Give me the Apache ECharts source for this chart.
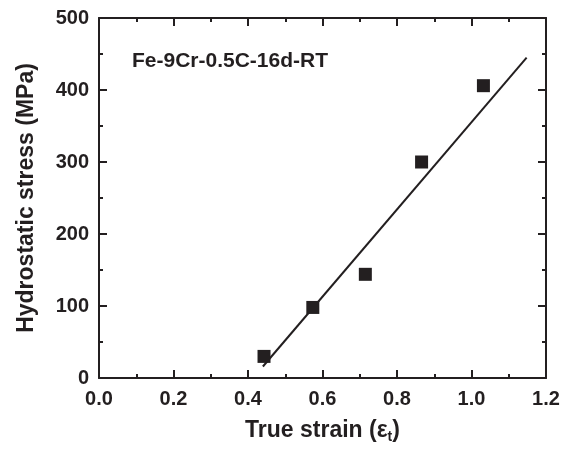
<!DOCTYPE html>
<html>
<head>
<meta charset="utf-8">
<script src="https://cdn.jsdelivr.net/npm/echarts@6/dist/echarts.min.js"></script>
<style>
  html, body { margin: 0; padding: 0; background: #fff; }
  #main { width: 570px; height: 450px; }
</style>
</head>
<body>
<div id="main"></div>
<script>
// measured points (true strain, hydrostatic stress MPa)
var strain = [0.443, 0.574, 0.715, 0.866, 1.032];
var stress = [30, 98, 144, 300, 406];
// end points of the fitted line
var fitX = [0.44, 1.148];
var fitY = [16, 445];

var ink = "#231f20";
var font = "Liberation Sans";

var points = strain.map(function (x, i) { return [x, stress[i]]; });
var fit = fitX.map(function (x, i) { return [x, fitY[i]]; });

function axisBase(extra) {
  var a = {
    axisLine: { show: true, onZero: false, lineStyle: { color: ink, width: 2 } },
    axisTick: { show: true, inside: true, length: 8, lineStyle: { color: ink, width: 2 } },
    minorTick: { show: true, splitNumber: 2, length: 4, lineStyle: { color: ink, width: 2 } },
    splitLine: { show: false },
    axisLabel: { show: false }
  };
  for (var k in extra) a[k] = extra[k];
  return a;
}

var myEcharts = echarts.init(document.getElementById("main"));
var option = {
  animation: false,
  title: {
    text: "Fe-9Cr-0.5C-16d-RT",
    left: 127,
    top: 46,
    textStyle: { fontFamily: font, fontWeight: "bold", fontSize: 21, color: ink }
  },
  grid: { left: 99, right: 24, top: 18, bottom: 72 },
  xAxis: [
    axisBase({
      type: "value", min: 0, max: 1.2, interval: 0.2, position: "bottom",
      axisLabel: {
        show: true, margin: 11, color: ink,
        fontFamily: font, fontWeight: "bold", fontSize: 20,
        formatter: function (v) { return v.toFixed(1); }
      },
      name: "True strain (ε{sub|t})",
      nameLocation: "middle",
      nameGap: 40,
      nameTextStyle: {
        color: ink, fontFamily: font, fontWeight: "bold", fontSize: 23,
        rich: {
          sub: { fontFamily: font, fontWeight: "bold", fontSize: 14, color: ink, verticalAlign: "bottom", padding: [12, 0, 0, 0] }
        }
      }
    }),
    axisBase({ type: "value", min: 0, max: 1.2, interval: 0.2, position: "top" })
  ],
  yAxis: [
    axisBase({
      type: "value", min: 0, max: 500, interval: 100, position: "left",
      axisLabel: {
        show: true, margin: 10, color: ink,
        fontFamily: font, fontWeight: "bold", fontSize: 20
      },
      name: "Hydrostatic stress (MPa)",
      nameLocation: "middle",
      nameGap: 61,
      nameTextStyle: { color: ink, fontFamily: font, fontWeight: "bold", fontSize: 23 }
    }),
    axisBase({ type: "value", min: 0, max: 500, interval: 100, position: "right" })
  ],
  series: [
    {
      type: "line",
      data: fit,
      symbol: "none",
      lineStyle: { color: ink, width: 2 },
      z: 2
    },
    {
      type: "scatter",
      data: points,
      symbol: "rect",
      symbolSize: 13,
      itemStyle: { color: ink, opacity: 1 },
      z: 3
    }
  ]
};
myEcharts.setOption(option);
</script>
</body>
</html>
